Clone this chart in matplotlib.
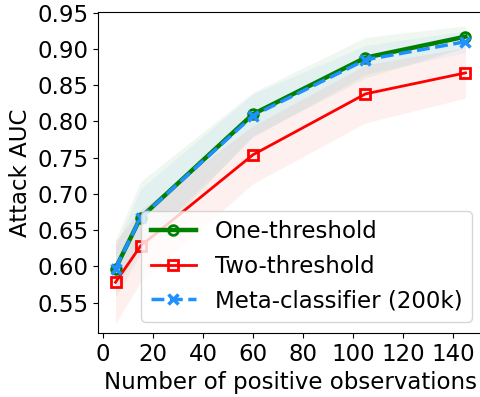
import matplotlib
matplotlib.use("Agg")
import matplotlib.pyplot as plt
import numpy as np

x = [5, 15, 60, 105, 145]
one_mean = [0.597, 0.667, 0.810, 0.888, 0.917]
one_std = [0.040, 0.050, 0.030, 0.028, 0.015]
two_mean = [0.578, 0.628, 0.754, 0.838, 0.867]
two_std = [0.057, 0.050, 0.040, 0.040, 0.035]
meta_mean = [0.597, 0.667, 0.808, 0.885, 0.910]
meta_std = [0.030, 0.040, 0.030, 0.020, 0.015]

fig = plt.figure(figsize=(4.81, 3.97), dpi=100)
ax = fig.add_axes([98/481, (397-333)/397, (483-98)/481, (333-12)/397])

def band(m, s, c, a):
    m = np.array(m); s = np.array(s)
    ax.fill_between(x, m - s, m + s, color=c, alpha=a, linewidth=0)

band(one_mean, one_std, "green", 0.06)
band(two_mean, two_std, "red", 0.06)
band(meta_mean, meta_std, "dodgerblue", 0.06)

ax.plot(x, one_mean, color="green", lw=3.2, marker="o", mfc="none", mew=2, ms=7, label="One-threshold")
ax.plot(x, two_mean, color="red", lw=2, marker="s", mfc="none", mew=2, ms=7, label="Two-threshold")
ax.plot(x, meta_mean, color="dodgerblue", lw=2.5, ls="--", marker="x", mew=2.5, ms=7, label="Meta-classifier (200k)")

ax.set_xlim(-2, 152)
ax.set_ylim(0.508, 0.951)
ax.set_xticks([0, 20, 40, 60, 80, 100, 120, 140])
ax.set_yticks([0.55, 0.60, 0.65, 0.70, 0.75, 0.80, 0.85, 0.90, 0.95])
ax.tick_params(labelsize=16.5)
ax.set_xlabel("Number of positive observations", fontsize=16.5)
ax.set_ylabel("Attack AUC", fontsize=16.5)
ax.legend(loc="lower right", fontsize=16.5)
fig.savefig("out.png", dpi=100)
